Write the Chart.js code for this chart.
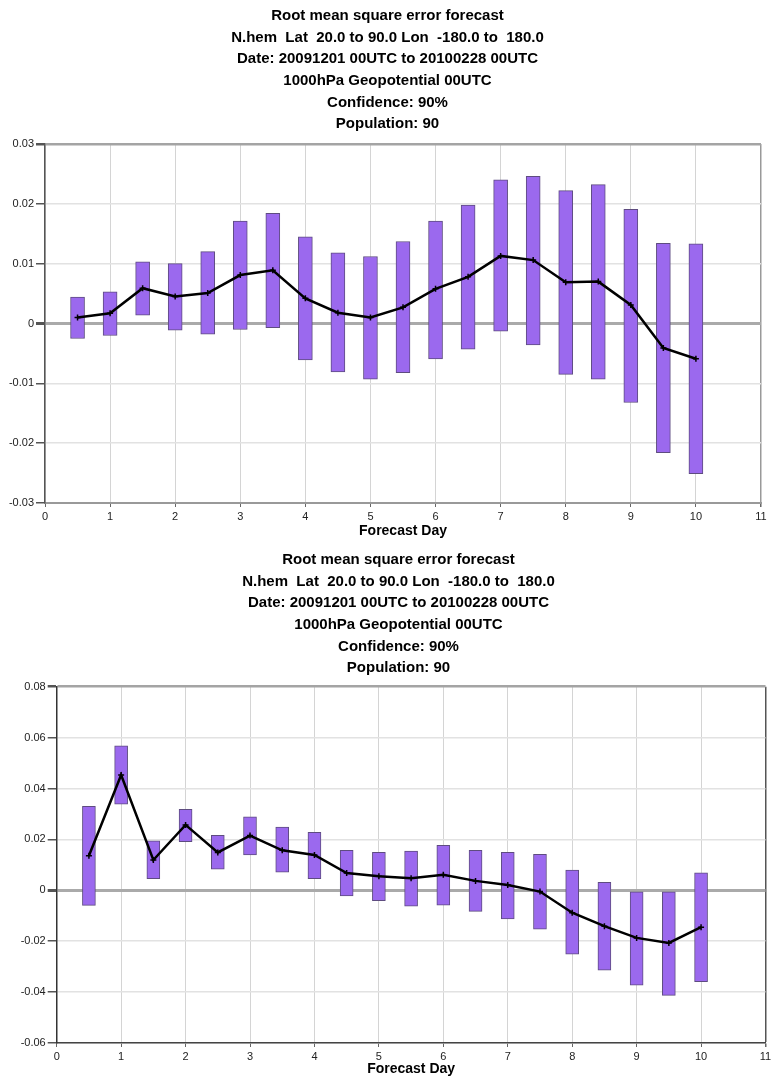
<!DOCTYPE html>
<html>
<head>
<meta charset="utf-8">
<script src="https://cdn.jsdelivr.net/npm/chart.js@4"></script>
<style>
  body { margin: 0; background: #fff; }
  canvas { display: block; }
</style>
</head>
<body>
<canvas id="chartTop" width="771" height="540"></canvas>
<canvas id="chartBottom" width="771" height="541"></canvas>
<script>
// forecast days (x)
const days = [0.5, 1, 1.5, 2, 2.5, 3, 3.5, 4, 4.5, 5, 5.5, 6, 6.5, 7, 7.5, 8, 8.5, 9, 9.5, 10];

// top panel: confidence bars + mean
const topLow = [-0.0025, -0.002, 0.0014, -0.0011, -0.0018, -0.001, -0.0007, -0.0061, -0.0081, -0.0093,
  -0.0082, -0.0059, -0.0043, -0.0013, -0.0036, -0.0085, -0.0093, -0.0132, -0.0216, -0.0251];
const topHigh = [0.0044, 0.0053, 0.0103, 0.0100, 0.0120, 0.0171, 0.0184, 0.0145, 0.0118, 0.0112,
  0.0137, 0.0171, 0.0198, 0.0240, 0.0246, 0.0222, 0.0232, 0.0191, 0.0134, 0.0133];
const topMean = [0.0010, 0.0017, 0.0059, 0.0045, 0.0051, 0.0081, 0.0089, 0.0042, 0.0018, 0.0010,
  0.0027, 0.0058, 0.0078, 0.0113, 0.0106, 0.0069, 0.0070, 0.0031, -0.0041, -0.0059];

// bottom panel
const botLow = [-0.0059, 0.0338, 0.0046, 0.0191, 0.0083, 0.0139, 0.0071, 0.0046, -0.0022, -0.0041,
  -0.0062, -0.0058, -0.0083, -0.0112, -0.0153, -0.0251, -0.0314, -0.0373, -0.0413, -0.0359];
const botHigh = [0.0330, 0.0568, 0.0194, 0.0318, 0.0216, 0.0289, 0.0248, 0.0228, 0.0157, 0.0149,
  0.0154, 0.0177, 0.0157, 0.0149, 0.0141, 0.0079, 0.0031, 0.0000, 0.0000, 0.0069];
const botMean = [0.0136, 0.0453, 0.0119, 0.0257, 0.0149, 0.0215, 0.0157, 0.0139, 0.0068, 0.0055,
  0.0047, 0.0061, 0.0037, 0.0021, -0.0005, -0.0088, -0.0141, -0.0187, -0.0207, -0.0145];

const titleLines = [
  "Root mean square error forecast",
  "N.hem  Lat  20.0 to 90.0 Lon  -180.0 to  180.0",
  "Date: 20091201 00UTC to 20100228 00UTC",
  "1000hPa Geopotential 00UTC",
  "Confidence: 90%",
  "Population: 90"
];

const FONT = "'Liberation Sans', Arial, sans-serif";
Chart.defaults.font.family = FONT;
Chart.defaults.color = "#222";

// multi-line heading, drawn by hand so it can sit off-centre like the original
const titleBlock = {
  id: "titleBlock",
  afterDraw(chart, args, opts) {
    let ctx = chart.ctx;
    ctx.save();
    ctx.fillStyle = "#000";
    ctx.font = "bold 15px " + FONT;
    ctx.textAlign = "center";
    ctx.textBaseline = "middle";
    opts.lines.forEach((t, i) => {
      ctx.fillText(t, opts.cx, opts.top + i * opts.step);
    });
    ctx.restore();
  },
};

function fmtTick(v) {
  if (Math.abs(v) < 1e-9) return "0";
  return parseFloat(v.toFixed(2)).toString();
}

function buildChart(el, low, high, mean, s) {
  let bars = days.map((d, k) => ({ x: d, y: [low[k], high[k]] }));
  let line = days.map((d, k) => ({ x: d, y: mean[k] }));

  return new Chart(el, {
    type: "bar",
    plugins: [titleBlock],
    data: {
      datasets: [
        {
          type: "line",
          data: line,
          borderColor: "#000",
          borderWidth: 2.5,
          pointStyle: "cross",
          pointRadius: 3,
          pointBorderWidth: 1.5,
          pointBorderColor: "#000",
          fill: false,
          tension: 0,
          order: 0,
        },
        {
          type: "bar",
          data: bars,
          backgroundColor: "#9b69ee",
          borderColor: "#5e4c80",
          borderWidth: 1,
          borderSkipped: false,
          barThickness: s.barWidth,
          order: 1,
        },
      ],
    },
    options: {
      responsive: false,
      animation: false,
      devicePixelRatio: 1,
      layout: { padding: { left: 0, right: s.padRight, top: s.padTop, bottom: 0 } },
      plugins: {
        legend: { display: false },
        tooltip: { enabled: false },
        title: { display: false },
        titleBlock: { lines: titleLines, cx: s.titleX, top: s.titleY, step: 21.6 },
      },
      scales: {
        x: {
          type: "linear",
          min: 0,
          max: 11,
          offset: false,
          ticks: { stepSize: 1, padding: 3, font: { size: 11 }, color: "#222", maxRotation: 0 },
          grid: {
            offset: false,
            color: (c) => (c.tick.value === 11 ? s.rightColor : "#d4d4d4"),
            lineWidth: (c) => (c.tick.value === 11 ? 1.5 : 1),
            tickColor: "#666",
            tickLength: 4,
          },
          border: { color: s.bottomColor, width: s.bottomWidth },
          title: {
            display: true,
            text: "Forecast Day",
            color: "#000",
            font: { size: 14, weight: "bold" },
            padding: { top: 0, bottom: s.xTitlePad },
          },
          afterFit: (scale) => {
            scale.height = s.xHeight;
            scale.paddingLeft = 0;
            scale.paddingRight = 0;
          },
        },
        y: {
          min: s.yMin,
          max: s.yMax,
          ticks: { stepSize: s.yStep, padding: 2, font: { size: 11 }, color: "#222", callback: fmtTick },
          grid: {
            color: (c) => {
              if (Math.abs(c.tick.value) < 1e-9) return "#aaa";
              if (Math.abs(c.tick.value - s.yMax) < 1e-9) return "#a4a4a4";
              return "#e2e2e2";
            },
            lineWidth: (c) => {
              if (Math.abs(c.tick.value) < 1e-9) return 3;
              if (Math.abs(c.tick.value - s.yMax) < 1e-9) return 2.5;
              return 1.5;
            },
            tickColor: "#555",
            tickLength: 9,
          },
          border: { color: s.leftColor, width: 1.5 },
          afterFit: (scale) => {
            scale.width = s.yWidth;
          },
        },
      },
    },
  });
}

buildChart(document.getElementById("chartTop"), topLow, topHigh, topMean, {
  barWidth: 14,
  padRight: 10,
  padTop: 144,
  yWidth: 45,
  titleX: 387.5,
  titleY: 16,
  xHeight: 37,
  xTitlePad: 0.6,
  yMin: -0.03,
  yMax: 0.03,
  yStep: 0.01,
  rightColor: "#999",
  bottomColor: "#999",
  bottomWidth: 2,
  leftColor: "#555",
});

buildChart(document.getElementById("chartBottom"), botLow, botHigh, botMean, {
  barWidth: 13,
  padRight: 2.3,
  padTop: 146.7,
  yWidth: 56.7,
  titleX: 398.5,
  titleY: 20,
  xHeight: 38,
  xTitlePad: 3.6,
  yMin: -0.06,
  yMax: 0.08,
  yStep: 0.02,
  rightColor: "#555",
  bottomColor: "#444",
  bottomWidth: 1.5,
  leftColor: "#333",
});
</script>
</body>
</html>
